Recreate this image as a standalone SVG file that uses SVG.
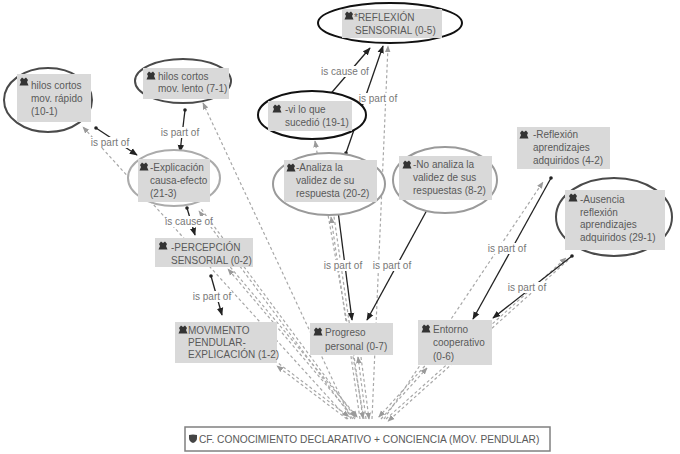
<svg xmlns="http://www.w3.org/2000/svg" width="680" height="454" viewBox="0 0 680 454">
<defs>
<style>
.t{font-family:"Liberation Sans",Arial,sans-serif;font-size:10px;fill:#5a5a5a}
.lb{font-family:"Liberation Sans",Arial,sans-serif;font-size:10px;fill:#777;text-anchor:middle}
.lbg{fill:#fff}
.box{fill:#d9d9d9}
.sol{fill:none;stroke:#222;stroke-width:1.3}
.das{fill:none;stroke:#a8a8a8;stroke-width:1.2;stroke-dasharray:3 2.5}
.el{fill:#fff;stroke-width:2}
</style>
<marker id="arr" viewBox="0 0 10 10" refX="9" refY="5" markerWidth="8" markerHeight="8" markerUnits="userSpaceOnUse" orient="auto"><path d="M0 1 L10 5 L0 9 Z" fill="#222"/></marker>
<marker id="dot" viewBox="0 0 4 4" refX="2" refY="2" markerWidth="3.6" markerHeight="3.6" markerUnits="userSpaceOnUse"><circle cx="2" cy="2" r="2" fill="#222"/></marker>
<marker id="garr" viewBox="0 0 10 10" refX="9" refY="5" markerWidth="7" markerHeight="7" markerUnits="userSpaceOnUse" orient="auto"><path d="M0 1 L10 5 L0 9 Z" fill="#9a9a9a"/></marker>
<symbol id="ic" viewBox="0 0 10 9"><path d="M1 3 L3 0.5 L5 2 L7 0.5 L9 3 L8 5 L9.5 8.5 L0.5 8.5 L2 5 Z" fill="#333"/></symbol>
<symbol id="sh" viewBox="0 0 8 9"><path d="M0 1 Q4 0 8 1 L8 4 Q8 7.5 4 9 Q0 7.5 0 4 Z" fill="#444"/></symbol>
</defs>
<rect width="680" height="454" fill="#fff"/>

<g id="connectors">
  <!-- dashed links to the family node -->
  <path class="das" d="M348 419 L83 127" marker-end="url(#garr)"/>
  <path class="das" d="M351 419 L203 103" marker-end="url(#garr)"/>
  <path class="das" d="M353 419 L199 211" marker-end="url(#garr)"/>
  <path class="das" d="M201.4 209.2 L355.4 417.2" marker-end="url(#garr)"/>
  <path class="das" d="M355 419 L228 269" marker-end="url(#garr)"/>
  <path class="das" d="M230.3 267.1 L357.3 417.1" marker-end="url(#garr)"/>
  <path class="das" d="M347 419 L277 366" marker-end="url(#garr)"/>
  <path class="das" d="M278.8 363.6 L348.8 416.6" marker-end="url(#garr)"/>
  <path class="das" d="M372 419 L388 46" marker-end="url(#garr)"/>
  <path class="das" d="M364 419 L315 141" marker-end="url(#garr)"/>
  <path class="das" d="M360 419 L331 217" marker-end="url(#garr)"/>
  <path class="das" d="M334 216.6 L363 418.6" marker-end="url(#garr)"/>
  <path class="das" d="M366 419 L358 357" marker-end="url(#garr)"/>
  <path class="das" d="M361 357 L369 419" marker-end="url(#garr)"/>
  <path class="das" d="M381 419 L427 368" marker-end="url(#garr)"/>
  <path class="das" d="M424.8 366 L378.8 417" marker-end="url(#garr)"/>
  <path class="das" d="M384 419 L543 182" marker-end="url(#garr)"/>
  <path class="das" d="M386 419 L566 258" marker-end="url(#garr)"/>
  <path class="das" d="M568 260.2 L388 421.2" marker-end="url(#garr)"/>

  <!-- solid relations -->
  <path class="sol" d="M96 128 L137 155" marker-start="url(#dot)" marker-end="url(#arr)"/>
  <path class="sol" d="M185 110 L180 152" marker-start="url(#dot)" marker-end="url(#arr)"/>
  <path class="sol" d="M187 208 L195 235" marker-start="url(#dot)" marker-end="url(#arr)"/>
  <path class="sol" d="M211 276 L222 315" marker-start="url(#dot)" marker-end="url(#arr)"/>
  <path class="sol" d="M327 98 L370 48" marker-start="url(#dot)" marker-end="url(#arr)"/>
  <path class="sol" d="M346 153 L383 46" marker-start="url(#dot)" marker-end="url(#arr)"/>
  <path class="sol" d="M338 211 L352 320" marker-start="url(#dot)" marker-end="url(#arr)"/>
  <path class="sol" d="M427 210 L367 320" marker-start="url(#dot)" marker-end="url(#arr)"/>
  <path class="sol" d="M551 178 L473 319" marker-start="url(#dot)" marker-end="url(#arr)"/>
  <path class="sol" d="M572 256 L493 318" marker-start="url(#dot)" marker-end="url(#arr)"/>

  <!-- labels -->
  <rect class="lbg" x="90" y="137" width="40" height="11"/><text class="lb" x="110" y="145.5">is part of</text>
  <rect class="lbg" x="160" y="127" width="40" height="11"/><text class="lb" x="180" y="135.5">is part of</text>
  <rect class="lbg" x="166" y="216" width="46" height="11"/><text class="lb" x="189" y="224.5">is cause of</text>
  <rect class="lbg" x="192" y="291" width="40" height="11"/><text class="lb" x="212" y="299.5">is part of</text>
  <rect class="lbg" x="322" y="66" width="46" height="11"/><text class="lb" x="345" y="74.5">is cause of</text>
  <rect class="lbg" x="358" y="93" width="40" height="11"/><text class="lb" x="378" y="101.5">is part of</text>
  <rect class="lbg" x="323" y="260" width="40" height="11"/><text class="lb" x="343" y="268.5">is part of</text>
  <rect class="lbg" x="372" y="260" width="40" height="11"/><text class="lb" x="392" y="268.5">is part of</text>
  <rect class="lbg" x="487" y="243" width="40" height="11"/><text class="lb" x="507" y="251.5">is part of</text>
  <rect class="lbg" x="507" y="282" width="40" height="11"/><text class="lb" x="527" y="290.5">is part of</text>
</g>

<g id="n-hilos-rapido">
  <ellipse class="el" cx="48" cy="100" rx="44" ry="32" stroke="#4a4a4a"/>
  <rect class="box" x="17" y="74" width="74" height="48"/>
  <use href="#ic" x="19" y="77" width="10" height="9"/>
  <text class="t" x="31" y="89">hilos cortos</text>
  <text class="t" x="31" y="102">mov. rápido</text>
  <text class="t" x="31" y="115">(10-1)</text>
</g>

<g id="n-hilos-lento">
  <ellipse class="el" cx="183" cy="81" rx="48" ry="22" stroke="#4a4a4a"/>
  <rect class="box" x="143" y="68" width="86" height="31"/>
  <use href="#ic" x="146" y="71" width="10" height="9"/>
  <text class="t" x="158" y="80">hilos cortos</text>
  <text class="t" x="158" y="92">mov. lento (7-1)</text>
</g>

<g id="n-explicacion">
  <ellipse class="el" cx="174" cy="178" rx="46" ry="28" stroke="#ababab"/>
  <rect class="box" x="138" y="159" width="72" height="43"/>
  <use href="#ic" x="139" y="162" width="10" height="9"/>
  <text class="t" x="150" y="171">-Explicación</text>
  <text class="t" x="150" y="184">causa-efecto</text>
  <text class="t" x="150" y="197">(21-3)</text>
</g>

<g id="n-percepcion">
  <rect class="box" x="155" y="238" width="98" height="29"/>
  <use href="#ic" x="158" y="241" width="10" height="9"/>
  <text class="t" x="171" y="251">-PERCEPCIÓN</text>
  <text class="t" x="171" y="264">SENSORIAL (0-2)</text>
</g>

<g id="n-movimento">
  <rect class="box" x="175" y="322" width="102" height="41"/>
  <use href="#ic" x="178" y="325" width="10" height="9"/>
  <text class="t" x="188" y="334">MOVIMENTO</text>
  <text class="t" x="188" y="346">PENDULAR-</text>
  <text class="t" x="188" y="358">EXPLICACIÓN (1-2)</text>
</g>

<g id="n-reflexion-sensorial">
  <ellipse class="el" cx="390" cy="23" rx="72" ry="20" stroke="#111" stroke-width="2.5"/>
  <rect class="box" x="342" y="9" width="100" height="29"/>
  <use href="#ic" x="344" y="11" width="10" height="9"/>
  <text class="t" x="354" y="21">*REFLEXIÓN</text>
  <text class="t" x="355" y="34">SENSORIAL (0-5)</text>
</g>

<g id="n-vi-lo-que">
  <ellipse class="el" cx="312" cy="115" rx="54" ry="24" stroke="#111" stroke-width="2.5"/>
  <rect class="box" x="268" y="101" width="84" height="30"/>
  <use href="#ic" x="272" y="104" width="10" height="9"/>
  <text class="t" x="285" y="113">-vi lo que</text>
  <text class="t" x="285" y="126">sucedió (19-1)</text>
</g>

<g id="n-analiza">
  <ellipse class="el" cx="329" cy="184" rx="56" ry="31" stroke="#9a9a9a"/>
  <rect class="box" x="284" y="160" width="93" height="42"/>
  <use href="#ic" x="286" y="163" width="10" height="9"/>
  <text class="t" x="296" y="171">-Analiza la</text>
  <text class="t" x="296" y="184">validez de su</text>
  <text class="t" x="296" y="197">respuesta (20-2)</text>
</g>

<g id="n-no-analiza">
  <ellipse class="el" cx="445" cy="180" rx="52" ry="33" stroke="#9a9a9a"/>
  <rect class="box" x="399" y="156" width="93" height="44"/>
  <use href="#ic" x="402" y="160" width="10" height="9"/>
  <text class="t" x="413" y="168">-No analiza la</text>
  <text class="t" x="413" y="181">validez de sus</text>
  <text class="t" x="413" y="194">respuestas (8-2)</text>
</g>

<g id="n-reflexion-aprendizajes">
  <rect class="box" x="517" y="127" width="93" height="42"/>
  <use href="#ic" x="519" y="130" width="10" height="9"/>
  <text class="t" x="533" y="138">-Reflexión</text>
  <text class="t" x="533" y="151">aprendizajes</text>
  <text class="t" x="533" y="164">adquiridos (4-2)</text>
</g>

<g id="n-ausencia">
  <ellipse class="el" cx="614" cy="217" rx="58" ry="39" stroke="#4a4a4a"/>
  <rect class="box" x="565" y="190" width="100" height="60"/>
  <use href="#ic" x="568" y="193" width="10" height="9"/>
  <text class="t" x="580" y="203">-Ausencia</text>
  <text class="t" x="580" y="215.5">reflexión</text>
  <text class="t" x="580" y="228">aprendizajes</text>
  <text class="t" x="580" y="240.5">adquiridos (29-1)</text>
</g>

<g id="n-progreso">
  <rect class="box" x="310" y="323" width="83" height="32"/>
  <use href="#ic" x="313" y="327" width="10" height="9"/>
  <text class="t" x="325" y="336">Progreso</text>
  <text class="t" x="325" y="350">personal (0-7)</text>
</g>

<g id="n-entorno">
  <rect class="box" x="418" y="320" width="74" height="45"/>
  <use href="#ic" x="421" y="324" width="10" height="9"/>
  <text class="t" x="433" y="333">Entorno</text>
  <text class="t" x="433" y="346">cooperativo</text>
  <text class="t" x="433" y="360">(0-6)</text>
</g>

<g id="n-cf">
  <rect x="185" y="427" width="365" height="24" fill="#fff" stroke="#808080" stroke-width="1.5"/>
  <use href="#sh" x="189" y="434" width="8" height="9"/>
  <text class="t" x="199" y="443" style="font-size:10.2px">CF. CONOCIMIENTO DECLARATIVO + CONCIENCIA (MOV. PENDULAR)</text>
</g>
</svg>
